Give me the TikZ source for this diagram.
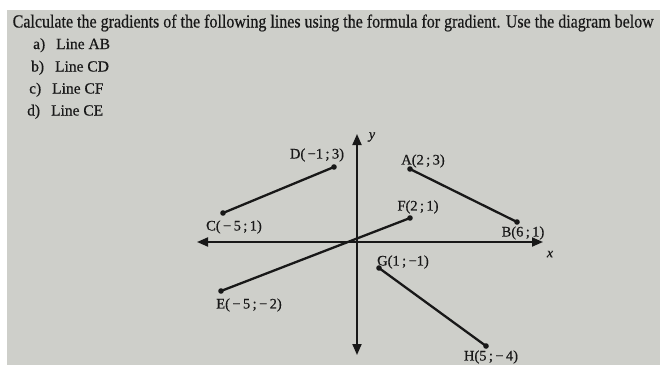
\documentclass[tikz,border=0pt]{standalone}
\usepackage{fontspec}
\setmainfont{Liberation Serif}[FakeBold=0.5]
\usepackage{graphicx}
\usetikzlibrary{arrows.meta}
\definecolor{paper}{RGB}{206,207,202}
\definecolor{ink}{RGB}{24,24,24}
\tikzset{
  seg/.style={ink, line width=2.3pt, line cap=round},
  axis/.style={ink, line width=1.9pt},
  pt/.style={ink},
  lbl/.style={ink, inner sep=0pt, font=\fontsize{14.5}{16}\selectfont},
  item/.style={ink, anchor=base west, inner sep=0pt, font=\fontsize{15.5}{18}\selectfont}
}

\begin{document}
\begin{tikzpicture}[x=1pt, y=-1pt, >={Triangle[length=11pt,width=9pt]}]
		\useasboundingbox (0,0) rectangle (660,367);
		\fill[white] (0,0) rectangle (660,367);
		\fill[paper] (7,10) rectangle (660,365);
		% question text
		\node[item] (title) at (12.5,27.5) {\resizebox{641pt}{\height}{\fontsize{18.5}{20}\selectfont Calculate the gradients of the following lines using the formula for gradient. Use the diagram below}};
		\node[item] (qa) at (33,49) {a)\hspace{11pt}Line AB};
		\node[item] (qb) at (31,71.5) {b)\hspace{11pt}Line CD};
		\node[item] (qc) at (29,93.5) {c)\hspace{11pt}Line CF};
		\node[item] (qd) at (27,115.5) {d)\hspace{11pt}Line CE};
		% axes
		\coordinate (xl) at (197,242);
		\coordinate (xr) at (543,242);
		\coordinate (yt) at (357,134);
		\coordinate (yb) at (357,355);
		\draw[axis, <->] (xl) -- (xr);
		\draw[axis, <->] (yt) -- (yb);
		\node[lbl, font=\fontsize{14}{16}\selectfont\itshape] (xlab) at (550,254) {x};
		\node[lbl, font=\fontsize{14}{16}\selectfont\itshape] (ylab) at (372,137) {y};
		% points
		\coordinate (A) at (410,169);
		\coordinate (B) at (517,222);
		\coordinate (C) at (223,213);
		\coordinate (D) at (334,167);
		\coordinate (E) at (221,291);
		\coordinate (F) at (410,218);
		\coordinate (G) at (379,268);
		\coordinate (H) at (486,346);
		% segments
		\draw[seg] (A) -- (B);
		\draw[seg] (C) -- (D);
		\draw[seg] (E) -- (F);
		\draw[seg] (G) -- (H);
		\foreach \p in {A,B,C,D,E,F,G,H}
			\fill[pt] (\p) circle (2.8pt);
		% labels
		\node[lbl] (labD) at (317,155) {D(\,−1\,;\,3)};
		\node[lbl] (labC) at (234,227) {C(\,−\,5\,;\,1)};
		\node[lbl] (labA) at (423,161) {A(2\,;\,3)};
		\node[lbl] (labF) at (418,207) {F(2\,;\,1)};
		\node[lbl] (labB) at (523,233) {B(6\,;\,1)};
		\node[lbl] (labG) at (403,262) {G(1\,;\,−1)};
		\node[lbl] (labE) at (249,305) {E(\,−\,5\,;\,−\,2)};
		\node[lbl] (labH) at (491,357) {H(5\,;\,−\,4)};
	\end{tikzpicture}
\end{document}
